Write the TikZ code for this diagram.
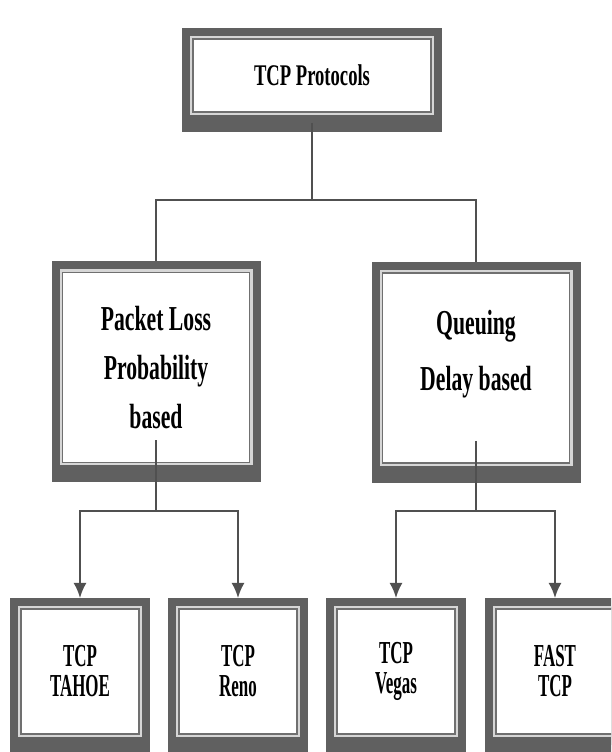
\documentclass[tikz,border=0pt]{standalone}
\usepackage{fontspec}
\newfontfamily\boxfont[FakeStretch=0.62]{Liberation Serif}
\newfontfamily\leaffont[FakeStretch=0.53]{Liberation Serif}
\usetikzlibrary{arrows.meta,
	positioning}

\definecolor{framedark}{RGB}{96,96,96}
\definecolor{framelight}{RGB}{214,214,214}
\definecolor{frameline}{RGB}{112,112,112}
\definecolor{linkgray}{RGB}{80,80,80}

\tikzset{
	framed/.style={rectangle, inner sep=0pt, outer sep=11pt, align=center,
		fill=white, draw=frameline, line width=1.8pt,
		preaction={draw=framedark, line width=22pt},
		preaction={draw=framedark, line width=22pt, transform canvas={yshift=-9pt}},
		preaction={draw=framelight, line width=6pt}},
	rootbox/.style={framed, minimum width=238pt, minimum height=73pt,
		font=\boxfont\bfseries\fontsize{30}{34}\selectfont},
	classbox/.style={framed, minimum width=187pt, minimum height=190pt,
		font=\boxfont\bfseries\fontsize{35}{49}\selectfont},
	leafbox/.style={framed, minimum width=118pt, minimum height=125pt,
		font=\leaffont\bfseries\fontsize{32}{30}\selectfont},
	link/.style={draw=linkgray, line width=2pt},
	arrowlink/.style={link, -{Latex[length=15pt, width=13pt]}}
}

\begin{document}
\begin{tikzpicture}[x=1pt, y=1pt]
	\useasboundingbox (0, 0) rectangle (611, 752);
	\clip (0, 0) rectangle (611, 752);
	% top level
	\node[rootbox] (tcp) at (312, 676.5) {TCP Protocols};
	% the two families
	\node[classbox] (loss) at (156, 384.5) {Packet Loss\\Probability\\based};
	\node[classbox, font=\boxfont\bfseries\fontsize{35}{56}\selectfont, text depth=36pt]
		(delay) at (476, 384) {Queuing\\Delay based};
	% the variants
	\node[leafbox] (tahoe) at (80, 80.5) {TCP\\TAHOE};
	\node[leafbox] (reno) at (238, 80.5) {TCP\\Reno};
	\node[leafbox] (vegas) at (396, 80.5) {TCP\\Vegas};
	\node[leafbox] (fast) at (555, 80.5) {FAST\\TCP};

	\coordinate (topfork) at (312, 552);
	\coordinate (lossfork) at (156, 241);
	\coordinate (delayfork) at (476, 241);

	\draw[link] (tcp.south) -- (topfork);
	\draw[link] (loss.north) |- (topfork) -| (delay.north);

	\draw[link] ([yshift=33pt]loss.south) -- (lossfork);
	\draw[arrowlink] (lossfork) -| (tahoe.north);
	\draw[arrowlink] (lossfork) -| (reno.north);

	\draw[link] ([yshift=33pt]delay.south) -- (delayfork);
	\draw[arrowlink] (delayfork) -| (vegas.north);
	\draw[arrowlink] (delayfork) -| (fast.north);
\end{tikzpicture}
\end{document}
